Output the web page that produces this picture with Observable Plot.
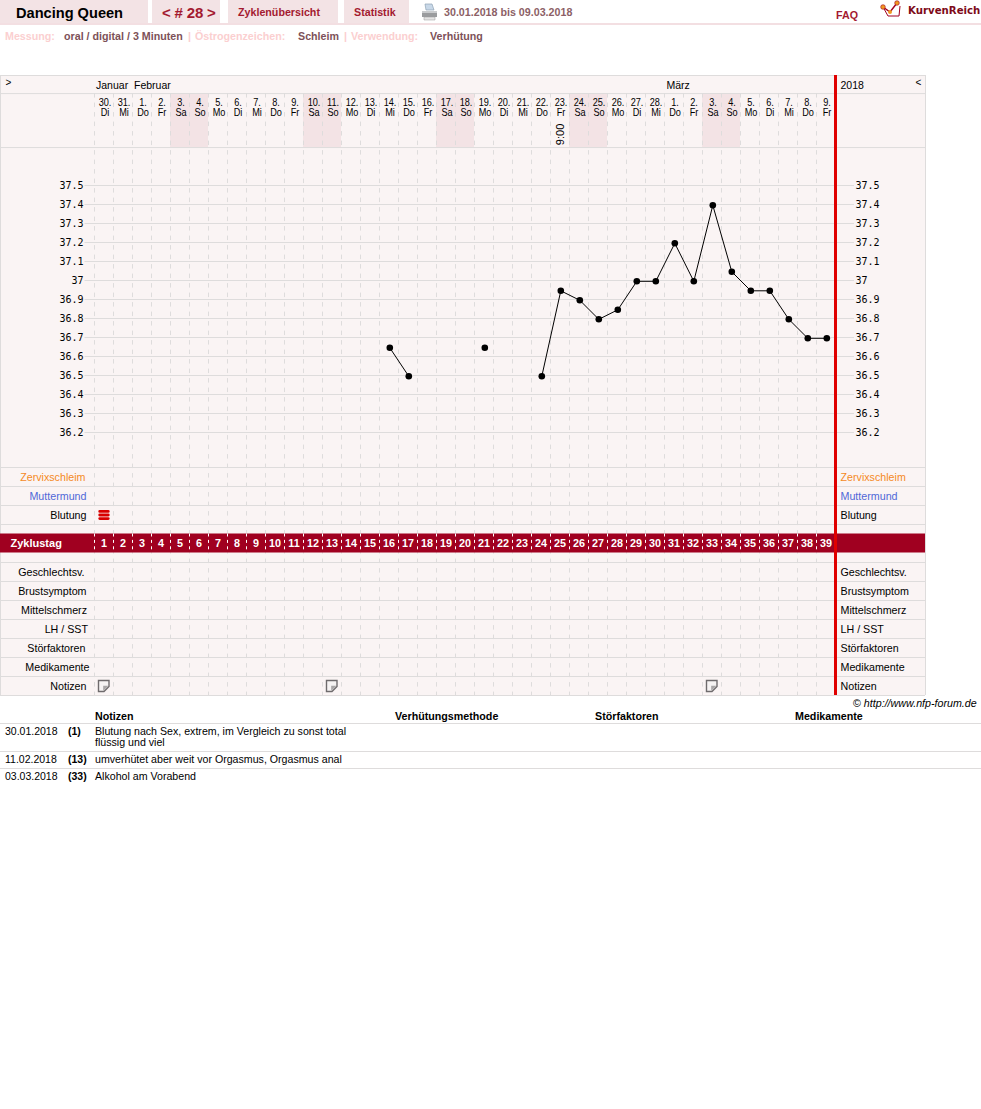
<!DOCTYPE html>
<html><head><meta charset="utf-8">
<script src="https://cdn.jsdelivr.net/npm/d3@7"></script>
<script src="https://cdn.jsdelivr.net/npm/@observablehq/plot@0.6"></script>
<style>
html,body{margin:0;padding:0;background:#fff}
body{position:relative;width:981px;height:1109px;overflow:hidden;font-family:"Liberation Sans",Arial,sans-serif;font-size:10.7px;color:#000}
.a{position:absolute;white-space:nowrap;line-height:13px}
.tab{position:absolute;top:0;height:23px;background:#f3e3e5}
.b{font-weight:bold}
.red{color:#a31a30;font-weight:bold}
.pk{color:#fbcfd0;font-weight:bold}
.br{color:#7d5158;font-weight:bold}
.hr{position:absolute;left:0;width:981px;height:1px;background:#dedcdc}
#chart{position:absolute;left:0;top:75px;width:981px;height:622px}
#chart svg{display:block}
</style></head><body>
<div class="tab" style="left:0;width:148px"></div>
<div class="tab" style="left:152px;width:68px"></div>
<div class="tab" style="left:228px;width:110px"></div>
<div class="tab" style="left:344px;width:65px"></div>
<div class="hr" style="top:23px;height:2px;background:#f3dfe2"></div>
<div class="a b" style="left:16px;top:6px;font-size:14.6px;line-height:15px">Dancing Queen</div>
<div class="a red" style="left:162px;top:5px;font-size:15px;line-height:16px;word-spacing:-0.4px">&lt; # 28 &gt;</div>
<div class="a red" style="left:238px;top:6px">Zyklenübersicht</div>
<div class="a red" style="left:354px;top:6px">Statistik</div>
<svg class="a" style="left:421px;top:3px" width="17" height="18" viewBox="0 0 17 18"><path d="M4 1h7l2 6H5z" fill="#c8d8e8" stroke="#8fa3b5" stroke-width=".7"/><path d="M1 8h15v6H1z" fill="#9a9c9e"/><path d="M1 8h15v2H1z" fill="#c9cbcd"/><path d="M3 14h11v3H3z" fill="#e4e4e4" stroke="#999" stroke-width=".5"/></svg>
<div class="a br" style="left:444px;top:6px;color:#8c5f66">30.01.2018 bis 09.03.2018</div>
<div class="a red" style="left:836px;top:9px">FAQ</div>
<svg class="a" style="left:880px;top:0" width="24" height="20" viewBox="0 0 24 20"><path d="M3 7L8 16L19 16L20 6" fill="none" stroke="#a00020" stroke-width="1"/><path d="M3 7L10 12L17 3" fill="none" stroke="#a00020" stroke-width="1.4"/><circle cx="3" cy="7" r="2.3" fill="#f09a20" stroke="#a00020" stroke-width=".6"/><circle cx="10" cy="12" r="2" fill="#f09a20"/><circle cx="17" cy="3" r="2.3" fill="#f09a20" stroke="#a00020" stroke-width=".6"/></svg>
<div class="a b" style="left:908px;top:4px;font-family:'DejaVu Sans';font-size:10.2px;color:#7d0a18">KurvenReich</div>

<div class="a pk" style="left:5px;top:30px">Messung:</div>
<div class="a br" style="left:64px;top:30px">oral / digital / 3 Minuten</div>
<div class="a pk" style="left:188px;top:30px">|</div>
<div class="a pk" style="left:195px;top:30px">Östrogenzeichen:</div>
<div class="a br" style="left:298px;top:30px">Schleim</div>
<div class="a pk" style="left:344px;top:30px">|</div>
<div class="a pk" style="left:351px;top:30px">Verwendung:</div>
<div class="a br" style="left:430px;top:30px">Verhütung</div>

<div id="chart"></div>
<div id="below"></div>

<script>
// ---------- data ----------
const cycleDays = d3.range(1, 40);
const dateNumbers = ["30.","31.","1.","2.","3.","4.","5.","6.","7.","8.","9.","10.","11.","12.","13.","14.","15.","16.","17.","18.","19.","20.","21.","22.","23.","24.","25.","26.","27.","28.","1.","2.","3.","4.","5.","6.","7.","8.","9."];
const weekdays = ["Di","Mi","Do","Fr","Sa","So","Mo","Di","Mi","Do","Fr","Sa","So","Mo","Di","Mi","Do","Fr","Sa","So","Mo","Di","Mi","Do","Fr","Sa","So","Mo","Di","Mi","Do","Fr","Sa","So","Mo","Di","Mi","Do","Fr"];
const temperatures = [null,null,null,null,null,null,null,null,null,null,null,null,null,null,null,36.65,36.5,null,null,null,36.65,null,null,36.5,36.95,36.9,36.8,36.85,37,37,37.2,37,37.4,37.05,36.95,36.95,36.8,36.7,36.7];
const tempTicks = [37.5,37.4,37.3,37.2,37.1,37,36.9,36.8,36.7,36.6,36.5,36.4,36.3,36.2];
const upperRows = ["Zervixschleim","Muttermund","Blutung"];
const upperRowColors = ["#f58a1f","#4f68d8","#000"];
const lowerRows = ["Geschlechtsv.","Brustsymptom","Mittelschmerz","LH / SST","Störfaktoren","Medikamente","Notizen"];
const bleedingDays = [1];
const noteDays = [1,13,33];
const timeNotes = [{day:25,label:"9:00"}];
const months = [{day:0.58,label:"Januar"},{day:2.58,label:"Februar"},{day:30.6,label:"März"}];
const noteDates = ["30.01.2018","11.02.2018","03.03.2018"];
const noteCycleDays = ["(1)","(13)","(33)"];
const noteTexts = ["Blutung nach Sex, extrem, im Vergleich zu sonst total<br>flüssig und viel","umverhütet aber weit vor Orgasmus, Orgasmus anal","Alkohol am Vorabend"];
const noteHeaders = ["Notizen","Verhütungsmethode","Störfaktoren","Medikamente"];

// ---------- layout helpers ----------
const W = 981, H = 622, PXD = 19, X0 = 84.5, PXT = 190, Y375 = 110;
// Rows of the table continue the temperature grid: one row = 0.1 degrees.
const rowT = k => 37.5 - (282 + 19 * k) / PXT;
const dayOf = px => (px - X0) / PXD;
const L = dayOf(0), R = dayOf(925);
const TOP = -20.63, MONTHLINE = -19.68, HEADLINE = -16.84;
const F = '"Liberation Sans",Arial,sans-serif';
const GRID = "#dedcdc", PANEL = "#faf4f4", WEEKEND = "#f3e3e5", BAND = "#a00020", REDLINE = "#e00000";

const days = cycleDays.map((d,i)=>({day:d,date:dateNumbers[i],wd:weekdays[i],t:temperatures[i]}));
const weekend = days.filter(d=>d.wd==="Sa"||d.wd==="So");
const rowLines = [TOP,MONTHLINE,HEADLINE,0,1,2,3,5,6,7,8,9,10,11,12];
const upper = upperRows.map((n,i)=>({n,c:upperRowColors[i],k:i+0.5}));
const lower = lowerRows.map((n,i)=>({n,k:5.5+i}));
const leftNudge = {"Geschlechtsv.":-2,"Störfaktoren":-1,"Medikamente":3,"LH / SST":1.5,"Zervixschleim":-1,"Mittelschmerz":0.5};
const labelX = d => dayOf(86 + (leftNudge[d.n] || 0));

const noteSymbol = {draw(c){c.moveTo(-5.5,-5.5);c.lineTo(5,-5.5);c.lineTo(5,0.5);c.lineTo(0,5.5);c.lineTo(-5.5,5.5);c.closePath();}};
const foldSymbol = {draw(c){c.moveTo(-0.8,5);c.lineTo(-0.8,-0.3);c.lineTo(4.5,-0.3);c.closePath();}};
const pill = (c,y,hw,r)=>{c.moveTo(-hw,y-r);c.lineTo(hw,y-r);c.arc(hw,y,r,-Math.PI/2,Math.PI/2);c.lineTo(-hw,y+r);c.arc(-hw,y,r,Math.PI/2,3*Math.PI/2);c.closePath();};
const bleedSymbol = {draw(c){pill(c,-3.6,4.3,1.4);pill(c,0,4.3,1.4);pill(c,3.6,4.3,1.4);}};

const chart = Plot.plot({
  width:W,height:H,margin:0,
  x:{axis:null,domain:[-X0/PXD,(W-X0)/PXD],range:[0,W]},
  y:{axis:null,domain:[37.5+Y375/PXT,37.5-(H-Y375)/PXT],range:[0,H]},
  style:{background:"transparent",fontFamily:F},
  marks:[
    // panel
    Plot.rect([0],{x1:L,x2:R,y1:rowT(TOP),y2:rowT(12),fill:PANEL}),
    Plot.rect(weekend,{x1:d=>d.day-0.5,x2:d=>d.day+0.5,y1:rowT(MONTHLINE),y2:rowT(HEADLINE),fill:WEEKEND}),
    // vertical day separators
    Plot.ruleX(d3.range(0,39).map(i=>i+0.5),{y1:rowT(MONTHLINE),y2:rowT(12),stroke:GRID,strokeDasharray:"4.5 5",strokeWidth:1}),
    // row lines and frame
    Plot.ruleY(rowLines,{y:rowT,x1:L,x2:R,stroke:GRID}),
    Plot.ruleX([L,R],{y1:rowT(TOP),y2:rowT(12),stroke:GRID}),
    // temperature grid
    Plot.ruleY(tempTicks,{x1:0,x2:40.5,stroke:GRID}),
    // red band
    Plot.rect([0],{x1:L,x2:R,y1:rowT(3.5),y2:rowT(4.5),fill:BAND}),
    Plot.ruleX(d3.range(0,39).map(i=>i+0.5),{y1:rowT(3.5),y2:rowT(4.5),stroke:"#fff",strokeDasharray:"3 3.4"}),
    // red day line
    Plot.ruleX([39.5],{y1:rowT(TOP),y2:rowT(12),stroke:REDLINE,strokeWidth:3}),
    // header labels
    Plot.text(months,{x:"day",y:rowT(-20.15),dy:1,text:"label",textAnchor:"start",fontSize:10.5,fill:"#000",fontFamily:F}),
    Plot.text(["2018"],{x:39.5,dx:5,y:rowT(-20.15),dy:1,text:d=>d,textAnchor:"start",fontSize:10.5,fontFamily:F}),
    Plot.text([">"],{x:L,dx:5,y:rowT(-20.25),text:d=>d,textAnchor:"start",fontSize:10,fontFamily:F}),
    Plot.text(["<"],{x:R,dx:-10,y:rowT(-20.25),text:d=>d,textAnchor:"start",fontSize:10,fontFamily:F}),
    Plot.text(days,{x:"day",dx:1,y:rowT(-19.2),text:"date",fontSize:10.4,fontFamily:F,fill:"#000"}),
    Plot.text(days,{x:"day",dx:1,y:rowT(-18.66),text:"wd",fontSize:10.4,fontFamily:F,fill:"#000"}),
    Plot.text(timeNotes,{x:"day",y:rowT(-17.53),text:"label",rotate:-90,fontSize:11,fontFamily:F,fill:"#000"}),
    // temperature labels
    Plot.text(tempTicks,{x:0.5,dx:-11,y:d=>d,text:d=>String(d),textAnchor:"end",fontSize:10,fontFamily:'"DejaVu Sans Mono",monospace',fill:"#000"}),
    Plot.text(tempTicks,{x:39.5,dx:20,y:d=>d,text:d=>String(d),textAnchor:"start",fontSize:10,fontFamily:'"DejaVu Sans Mono",monospace',fill:"#000"}),
    // row labels
    Plot.text(upper,{x:labelX,y:d=>rowT(d.k),dy:1,text:"n",textAnchor:"end",fontSize:10.7,fill:d=>d.c,fontFamily:F}),
    Plot.text(upper,{x:39.5,dx:5,y:d=>rowT(d.k),dy:1,text:"n",textAnchor:"start",fontSize:10.7,fill:d=>d.c,fontFamily:F}),
    Plot.text(lower,{x:labelX,y:d=>rowT(d.k),dy:1,text:"n",textAnchor:"end",fontSize:10.7,fill:"#000",fontFamily:F}),
    Plot.text(lower,{x:39.5,dx:5,y:d=>rowT(d.k),dy:1,text:"n",textAnchor:"start",fontSize:10.7,fill:"#000",fontFamily:F}),
    // band labels
    Plot.text(["Zyklustag"],{x:L,dx:10,y:rowT(4),text:d=>d,textAnchor:"start",fontSize:11,fontWeight:"bold",fill:"#fff",fontFamily:F}),
    Plot.text(cycleDays,{x:d=>d,y:rowT(4),text:d=>String(d),fontSize:10.8,fontWeight:"bold",fill:"#fff",fontFamily:F}),
    // markers
    Plot.dot(bleedingDays,{x:d=>d,y:rowT(2.5),symbol:bleedSymbol,fill:"#d80000",stroke:"none",r:5}),
    Plot.dot(noteDays,{x:d=>d,y:rowT(11.5),symbol:noteSymbol,fill:"#f6f3f3",stroke:"#6f6b6d",strokeWidth:1.4,r:5}),
    Plot.dot(noteDays,{x:d=>d,y:rowT(11.5),symbol:foldSymbol,fill:"#a9a6a7",stroke:"none",r:5}),
    // temperature curve
    Plot.line(days,{x:"day",y:"t",dx:0.8,dy:0.8,stroke:"#000",strokeWidth:1,defined:d=>d.t!=null}),
    Plot.dot(days.filter(d=>d.t!=null),{x:"day",y:"t",dx:0.8,dy:0.8,r:3.3,fill:"#000",stroke:"none"})
  ]
});
document.getElementById("chart").appendChild(chart);
// Date and weekday labels are set in a condensed cut of the face.
chart.querySelectorAll('g[font-size="10.4"] text').forEach(t=>{
  t.setAttribute("transform",(t.getAttribute("transform")||"")+" scale(.88,1)");
});

// ---------- table below ----------
const below = document.getElementById("below");
const add = (html,css,cls="a")=>{const e=document.createElement("div");e.className=cls;e.style.cssText=css;e.innerHTML=html;below.appendChild(e);};
add("© <i>http://www.nfp-forum.de</i>","left:853px;top:697px;font-size:10.7px");
const colX=[95,395,595,795];
noteHeaders.forEach((h,i)=>add(h,`left:${colX[i]}px;top:710px;font-size:10.7px;font-weight:bold`));
const rowTop=[725,753,770], lineTop=[723,751,768];
lineTop.forEach(y=>add("",`top:${y}px`,"hr"));
noteDates.forEach((d,i)=>{
  add(d,`left:5px;top:${rowTop[i]}px;font-size:10.5px`);
  add(noteCycleDays[i],`left:68px;top:${rowTop[i]}px;font-size:10.5px;font-weight:bold`);
  add(noteTexts[i],`left:95px;top:${rowTop[i]+1}px;font-size:10.63px;line-height:11px`);
});
</script>
</body></html>
